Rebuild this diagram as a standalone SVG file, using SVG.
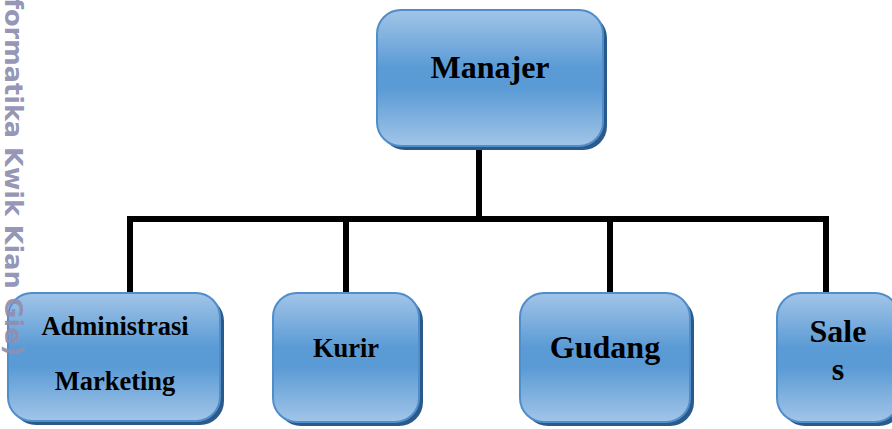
<svg xmlns="http://www.w3.org/2000/svg" width="892" height="429" viewBox="0 0 892 429">
<defs>
<linearGradient id="g" x1="0" y1="0" x2="0" y2="1">
<stop offset="0" stop-color="#A2C5E8"/>
<stop offset="0.42" stop-color="#5B9BD5"/>
<stop offset="0.58" stop-color="#5B9BD5"/>
<stop offset="1" stop-color="#A2C5E8"/>
</linearGradient>
</defs>
<style>
.box{fill:url(#g);stroke:#4F8DCB;stroke-width:2}
.sh{fill:#2A5A8C}
.t{font-family:"Liberation Serif","Times New Roman",serif;font-weight:bold;fill:#000;text-anchor:middle}
.big{font-size:32px}
.small{font-size:26.5px}
.ln{fill:none;stroke:#000;stroke-width:6;stroke-linejoin:miter}
.wm{font-family:"DejaVu Sans",sans-serif;font-weight:bold;font-size:25.5px;fill:#8F8FB2;fill-opacity:0.95}
</style>
<g id="connectors">
<path class="ln" d="M479,148 V219"/>
<path class="ln" d="M130,293 V219 H826 V293"/>
<path class="ln" d="M346,219 V293"/>
<path class="ln" d="M610,219 V293"/>
</g>
<g id="manajer">
<rect class="sh" x="381" y="14" width="226" height="136" rx="24"/>
<rect class="box" x="377" y="10" width="226" height="136" rx="24"/>
<text class="t big" x="490" y="78">Manajer</text>
</g>
<g id="administrasi">
<rect class="sh" x="12" y="297" width="212" height="128" rx="24"/>
<rect class="box" x="8" y="293" width="212" height="128" rx="24"/>
<text class="t small" x="115" y="335">Administrasi</text>
<text class="t small" x="115" y="390">Marketing</text>
</g>
<g id="kurir">
<rect class="sh" x="277" y="297" width="146" height="129" rx="24"/>
<rect class="box" x="273" y="293" width="146" height="129" rx="24"/>
<text class="t small" x="346" y="357">Kurir</text>
</g>
<g id="gudang">
<rect class="sh" x="524" y="297" width="170" height="129" rx="24"/>
<rect class="box" x="520" y="293" width="170" height="129" rx="24"/>
<text class="t big" x="605" y="358">Gudang</text>
</g>
<g id="sales">
<rect class="sh" x="781" y="297" width="122" height="129" rx="24"/>
<rect class="box" x="777" y="293" width="122" height="129" rx="24"/>
<text class="t big" x="838" y="342">Sale</text>
<text class="t big" x="838" y="380">s</text>
</g>
<text class="wm" transform="translate(5,-2) rotate(90)">formatika Kwik Kian Gie)</text>
</svg>
